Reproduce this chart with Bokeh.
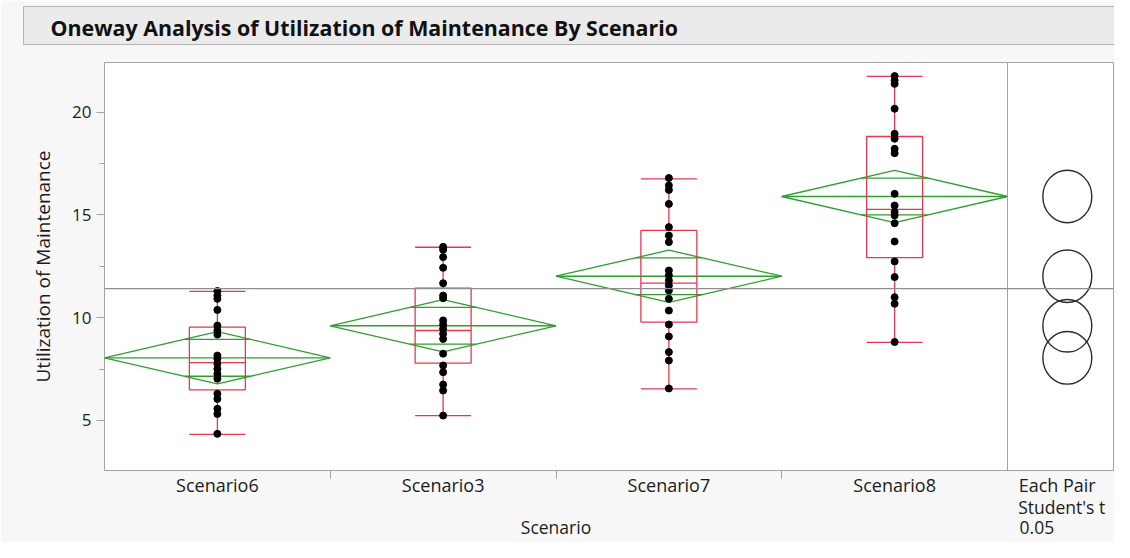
import math
from bokeh.plotting import figure
from bokeh.models import Range1d, FixedTicker, Span, LinearAxis
from bokeh.embed import file_html
from bokeh.resources import INLINE

# ---------------- data ----------------
title_text = "Oneway Analysis of Utilization of Maintenance By Scenario"
scenarios = ["Scenario6", "Scenario3", "Scenario7", "Scenario8"]

util_scenario6 = [11.30, 11.08, 10.92, 10.38, 9.62, 9.38, 9.18, 8.16, 8.00, 7.76,
                  7.51, 7.27, 7.03, 6.30, 6.05, 5.57, 5.32, 4.35]
util_scenario3 = [13.45, 13.31, 12.95, 12.43, 11.68, 11.08, 10.95, 9.87, 9.67, 9.46,
                  9.22, 8.97, 8.25, 7.68, 7.35, 6.75, 6.46, 5.24]
util_scenario7 = [16.80, 16.44, 16.22, 15.54, 14.41, 14.00, 13.68, 12.30, 12.06, 11.81,
                  11.57, 11.33, 10.92, 10.35, 9.67, 9.09, 8.33, 7.92, 6.56]
util_scenario8 = [21.76, 21.55, 21.38, 20.17, 18.95, 18.71, 18.22, 18.01, 16.03, 15.46,
                  15.14, 14.98, 14.60, 13.71, 12.74, 11.98, 11.00, 10.68, 8.82]
groups = [util_scenario6, util_scenario3, util_scenario7, util_scenario8]

means = [8.05, 9.61, 12.02, 15.90]
ci_half = [1.27, 1.27, 1.27, 1.27]          # 95% CI half width (mean diamonds)
q1 = [6.49, 7.79, 9.79, 12.93]
medians = [7.82, 9.38, 11.68, 15.27]
q3 = [9.54, 11.44, 14.25, 18.82]
whisker_lo = [4.32, 5.24, 6.54, 8.80]
whisker_hi = [11.28, 13.43, 16.76, 21.74]
grand_mean = 11.42
circle_radius = [1.28, 1.28, 1.28, 1.28]     # comparison circles (Student's t, 0.05)

y_ticks = [5, 10, 15, 20]
y_minor_ticks = [7.5, 12.5, 17.5]
y_label = "Utilization of Maintenance"
x_label = "Scenario"
panel_labels = ["Each Pair", "Student's t", "0.05"]

# ---------------- styling ----------------
FONT = "Open Sans"
PAGE_BG = "#f7f7f7"
RED = "#e8374f"
GREEN = "#2f9f2f"
FRAME = "#a3a3a3"
TEXT = "#1c1c1c"

W, H = 1114, 542
CAT_PX = 225.75
FRAME_LEFT = 104
x_end = 0.5 + (W - FRAME_LEFT) / CAT_PX
y_start, y_end = 2.567, 22.42

p = figure(width=W, height=H, x_range=Range1d(0.5, x_end), y_range=Range1d(y_start, y_end),
           toolbar_location=None, output_backend="svg",
           min_border_left=FRAME_LEFT, min_border_right=0, min_border_top=62, min_border_bottom=72)
p.background_fill_color = "white"
p.border_fill_color = PAGE_BG
p.outline_line_color = FRAME
p.grid.visible = False

def style_text(ax, size):
    ax.major_label_text_font = FONT
    ax.major_label_text_font_size = size
    ax.major_label_text_color = TEXT

def bare_axis(ticks, labels, standoff, size):
    ax = LinearAxis(ticker=FixedTicker(ticks=ticks, minor_ticks=[]),
                    major_label_overrides=dict(zip(ticks, labels)))
    ax.axis_line_color = None
    ax.major_tick_line_color = None
    ax.minor_tick_line_color = None
    ax.major_tick_in = 0
    ax.minor_tick_out = 0
    ax.minor_tick_in = 0
    ax.major_tick_out = 0
    ax.major_label_standoff = standoff
    style_text(ax, size)
    return ax

# ---- main x axis (row 1: group names + "Each Pair") ----
xa = p.below[0]
xa.ticker = FixedTicker(ticks=[1, 2, 3, 4, 4.72], minor_ticks=[1.5, 2.5, 3.5])
xa.major_label_overrides = {**{i + 1: s for i, s in enumerate(scenarios)}, 4.72: panel_labels[0]}
xa.major_tick_out = 0
xa.major_tick_in = 0
xa.minor_tick_out = 8
xa.minor_tick_in = 0
xa.minor_tick_line_color = FRAME
xa.axis_line_color = None
xa.major_label_standoff = -6
style_text(xa, "18px")

# row 2: "Student's t"; row 3: axis title "Scenario" + "0.05"
p.add_layout(bare_axis([4.74], [panel_labels[1]], -5, "17.5px"), "below")
p.add_layout(bare_axis([2.5, 4.63], [x_label, panel_labels[2]], -7, "17.5px"), "below")

# empty spacer between the title bar and the plot frame
spacer = bare_axis([1], [""], 0, "0px")
spacer.major_tick_out = 17
p.add_layout(spacer, "above")

# ---- title bar ----
p.title.text = title_text
p.title.align = "left"
p.title.offset = -81
p.title.standoff = 2
p.title.text_font = FONT
p.title.text_font_size = "21.4px"
p.title.text_font_style = "bold"
p.title.text_color = "#111111"
p.title.background_fill_color = "#ebebeb"
p.title.border_line_color = "#b5b5b5"
p.title.padding = dict(left=27, right=700, top=6, bottom=3)

# ---- y axis ----
ya = p.left[0]
ya.ticker = FixedTicker(ticks=y_ticks, minor_ticks=y_minor_ticks)
ya.major_tick_out = 8
ya.major_tick_in = 0
ya.minor_tick_out = 5
ya.minor_tick_in = 0
ya.major_tick_line_color = FRAME
ya.minor_tick_line_color = FRAME
ya.axis_line_color = None
ya.axis_label = y_label
ya.axis_label_standoff = 13
ya.major_label_standoff = 5
style_text(ya, "17px")
ya.axis_label_text_font = FONT
ya.axis_label_text_font_size = "19px"
ya.axis_label_text_font_style = "normal"
ya.axis_label_text_color = TEXT

xpos = [i + 1 for i in range(len(scenarios))]

# separator of the comparison-circle panel and the grand mean line
p.add_layout(Span(location=4.5, dimension="height", line_color=FRAME, line_width=1))
p.add_layout(Span(location=grand_mean, dimension="width", line_color="#8e8e8e", line_width=1.2))

# mean diamonds
dxs = [[x - 0.5, x, x + 0.5, x] for x in xpos]
dys = [[m, m + c, m, m - c] for m, c in zip(means, ci_half)]
p.patches(dxs, dys, fill_color=None, line_color=GREEN, line_width=1.3)
p.segment(x0=[x - 0.5 for x in xpos], y0=means, x1=[x + 0.5 for x in xpos], y1=means,
          line_color=GREEN, line_width=1.3)
ov = 0.5 * (1 - 1 / math.sqrt(2))
for sgn in (1, -1):
    yy = [m + sgn * c / math.sqrt(2) for m, c in zip(means, ci_half)]
    p.segment(x0=[x - ov for x in xpos], y0=yy, x1=[x + ov for x in xpos], y1=yy,
              line_color=GREEN, line_width=1.3)

# quantile boxes
BH = 0.124
p.quad(left=[x - BH for x in xpos], right=[x + BH for x in xpos], bottom=q1, top=q3,
       fill_color=None, line_color=RED, line_width=1.3)
p.segment(x0=[x - BH for x in xpos], y0=medians, x1=[x + BH for x in xpos], y1=medians,
          line_color=RED, line_width=1.3)
p.segment(x0=xpos, y0=q3, x1=xpos, y1=whisker_hi, line_color=RED, line_width=1.3)
p.segment(x0=xpos, y0=q1, x1=xpos, y1=whisker_lo, line_color=RED, line_width=1.3)
for wv in (whisker_hi, whisker_lo):
    p.segment(x0=[x - BH for x in xpos], y0=wv, x1=[x + BH for x in xpos], y1=wv,
              line_color=RED, line_width=1.3)

# points
px, py = [], []
for x, g in zip(xpos, groups):
    px += [x] * len(g)
    py += g
p.scatter(px, py, size=7, color="black")

# comparison circles
cmp_x = 4.765
p.ellipse(x=[cmp_x] * len(means), y=means, width=0.217, height=[2 * r for r in circle_radius],
          fill_color=None, line_color="#2b2b2b", line_width=1.4)

open("out.html", "w").write(file_html(p, INLINE))
